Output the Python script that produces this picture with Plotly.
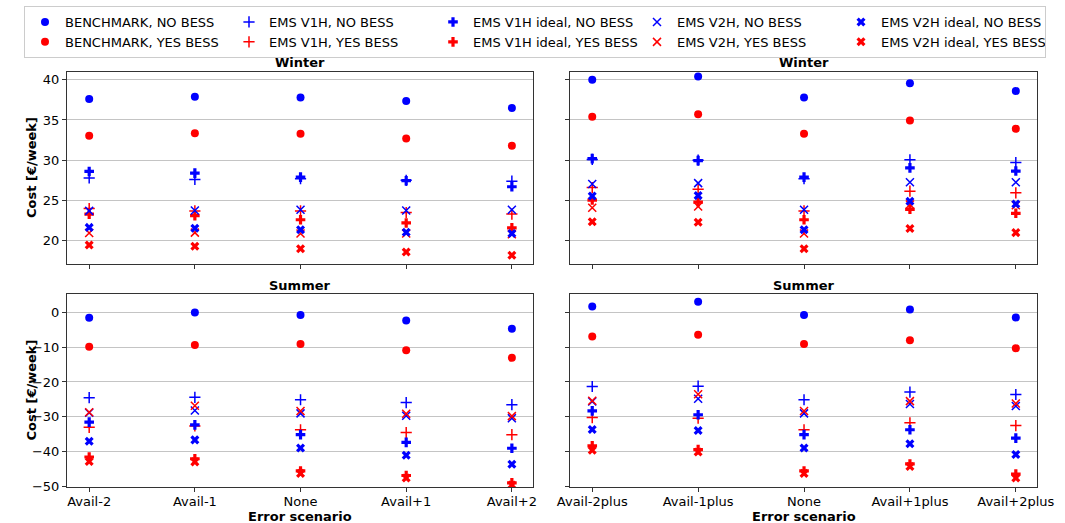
import plotly.graph_objects as go

# ---------------- data ----------------
CATS_LEFT = ["Avail-2", "Avail-1", "None", "Avail+1", "Avail+2"]
CATS_RIGHT = ["Avail-2plus", "Avail-1plus", "None", "Avail+1plus", "Avail+2plus"]

SERIES = [
    "BENCHMARK, NO BESS", "BENCHMARK, YES BESS",
    "EMS V1H, NO BESS", "EMS V1H, YES BESS",
    "EMS V1H ideal, NO BESS", "EMS V1H ideal, YES BESS",
    "EMS V2H, NO BESS", "EMS V2H, YES BESS",
    "EMS V2H ideal, NO BESS", "EMS V2H ideal, YES BESS",
]

# Winter, left panel (Avail-2 ... Avail+2)
W_L_BENCH_NO = [37.6, 37.9, 37.8, 37.35, 36.5]
W_L_BENCH_YES = [33.05, 33.35, 33.3, 32.7, 31.8]
W_L_V1H_NO = [27.8, 27.6, 27.7, 27.5, 27.4]
W_L_V1H_YES = [24.0, 23.7, 23.7, 23.5, 23.3]
W_L_V1HI_NO = [28.6, 28.4, 27.9, 27.45, 26.7]
W_L_V1HI_YES = [23.3, 23.1, 22.6, 22.2, 21.6]
W_L_V2H_NO = [23.7, 23.75, 23.85, 23.75, 23.85]
W_L_V2H_YES = [20.95, 21.0, 20.9, 20.9, 20.8]
W_L_V2HI_NO = [21.65, 21.55, 21.35, 21.05, 20.9]
W_L_V2HI_YES = [19.45, 19.3, 19.0, 18.6, 18.2]

# Winter, right panel (Avail-2plus ... Avail+2plus)
W_R_BENCH_NO = [40.0, 40.4, 37.8, 39.55, 38.6]
W_R_BENCH_YES = [35.4, 35.7, 33.3, 34.95, 33.9]
W_R_V1H_NO = [30.1, 30.0, 27.7, 30.05, 29.7]
W_R_V1H_YES = [26.6, 26.4, 23.7, 26.15, 25.95]
W_R_V1HI_NO = [30.2, 29.95, 27.9, 29.05, 28.65]
W_R_V1HI_YES = [25.05, 24.8, 22.6, 23.9, 23.4]
W_R_V2H_NO = [27.05, 27.15, 23.85, 27.25, 27.25]
W_R_V2H_YES = [24.1, 24.25, 20.9, 24.5, 24.4]
W_R_V2HI_NO = [25.55, 25.6, 21.35, 24.9, 24.55]
W_R_V2HI_YES = [22.35, 22.3, 19.0, 21.5, 21.0]

# Summer, left panel
S_L_BENCH_NO = [-1.6, -0.1, -0.85, -2.4, -4.75]
S_L_BENCH_YES = [-9.9, -9.4, -9.1, -10.95, -13.1]
S_L_V1H_NO = [-24.5, -24.4, -25.1, -25.9, -26.5]
S_L_V1H_YES = [-33.0, -32.6, -33.7, -34.5, -35.1]
S_L_V1HI_NO = [-31.5, -32.3, -35.1, -37.3, -39.0]
S_L_V1HI_YES = [-41.5, -42.0, -45.5, -46.8, -48.9]
S_L_V2H_NO = [-28.8, -28.2, -29.0, -29.7, -30.4]
S_L_V2H_YES = [-28.7, -26.8, -28.3, -29.1, -29.8]
S_L_V2HI_NO = [-37.0, -36.6, -38.9, -41.0, -43.6]
S_L_V2HI_YES = [-42.8, -42.9, -46.2, -47.5, -49.5]

# Summer, right panel
S_R_BENCH_NO = [1.6, 3.0, -0.85, 0.75, -1.5]
S_R_BENCH_YES = [-7.0, -6.5, -9.1, -8.05, -10.35]
S_R_V1H_NO = [-21.3, -21.2, -25.1, -22.9, -23.6]
S_R_V1H_YES = [-30.2, -30.4, -33.7, -31.7, -32.5]
S_R_V1HI_NO = [-28.3, -29.4, -35.1, -33.7, -36.1]
S_R_V1HI_YES = [-38.3, -39.4, -45.5, -43.5, -46.4]
S_R_V2H_NO = [-25.6, -24.8, -29.0, -26.3, -26.9]
S_R_V2H_YES = [-25.4, -23.5, -28.3, -25.5, -26.2]
S_R_V2HI_NO = [-33.6, -33.9, -38.9, -37.7, -40.8]
S_R_V2HI_YES = [-39.6, -40.1, -46.2, -44.2, -47.5]

W_TICKS = [20, 25, 30, 35, 40]
S_TICKS = [-50, -40, -30, -20, -10, 0]

# ---------------- styling ----------------
STYLE = {
    "BENCHMARK, NO BESS": dict(symbol="circle", color="blue", thin=False, rank=1),
    "BENCHMARK, YES BESS": dict(symbol="circle", color="red", thin=False, rank=6),
    "EMS V1H, NO BESS": dict(symbol="cross-thin", color="blue", thin=True, rank=2),
    "EMS V1H, YES BESS": dict(symbol="cross-thin", color="red", thin=True, rank=7),
    "EMS V1H ideal, NO BESS": dict(symbol="cross", color="blue", thin=False, rank=3),
    "EMS V1H ideal, YES BESS": dict(symbol="cross", color="red", thin=False, rank=8),
    "EMS V2H, NO BESS": dict(symbol="x-thin", color="blue", thin=True, rank=4),
    "EMS V2H, YES BESS": dict(symbol="x-thin", color="red", thin=True, rank=9),
    "EMS V2H ideal, NO BESS": dict(symbol="x", color="blue", thin=False, rank=5),
    "EMS V2H ideal, YES BESS": dict(symbol="x", color="red", thin=False, rank=10),
}

PANELS = [
    ("x", "y", CATS_LEFT, [W_L_BENCH_NO, W_L_BENCH_YES, W_L_V1H_NO, W_L_V1H_YES, W_L_V1HI_NO,
                           W_L_V1HI_YES, W_L_V2H_NO, W_L_V2H_YES, W_L_V2HI_NO, W_L_V2HI_YES]),
    ("x2", "y2", CATS_RIGHT, [W_R_BENCH_NO, W_R_BENCH_YES, W_R_V1H_NO, W_R_V1H_YES, W_R_V1HI_NO,
                              W_R_V1HI_YES, W_R_V2H_NO, W_R_V2H_YES, W_R_V2HI_NO, W_R_V2HI_YES]),
    ("x3", "y3", CATS_LEFT, [S_L_BENCH_NO, S_L_BENCH_YES, S_L_V1H_NO, S_L_V1H_YES, S_L_V1HI_NO,
                             S_L_V1HI_YES, S_L_V2H_NO, S_L_V2H_YES, S_L_V2HI_NO, S_L_V2HI_YES]),
    ("x4", "y4", CATS_RIGHT, [S_R_BENCH_NO, S_R_BENCH_YES, S_R_V1H_NO, S_R_V1H_YES, S_R_V1HI_NO,
                              S_R_V1HI_YES, S_R_V2H_NO, S_R_V2H_YES, S_R_V2HI_NO, S_R_V2HI_YES]),
]

fig = go.Figure()
for pi, (xa, ya, cats, values) in enumerate(PANELS):
    for name, vals in zip(SERIES, values):
        st = STYLE[name]
        if st["thin"]:
            marker = dict(symbol=st["symbol"], size=8, color=st["color"],
                          line=dict(width=1.5, color=st["color"]))
        else:
            marker = dict(symbol=st["symbol"], size=8, color=st["color"], line=dict(width=0))
        fig.add_trace(go.Scatter(
            x=cats, y=vals, mode="markers", name=name, marker=marker,
            xaxis=xa, yaxis=ya, showlegend=(pi == 0), legendrank=st["rank"],
        ))

W, H = 1065, 523
FONT = "DejaVu Sans"
dom_xl = [67 / W, 533 / W]
dom_xr = [570 / W, 1037 / W]
dom_yt = [1 - 264 / H, 1 - 71.7 / H]
dom_yb = [1 - 487 / H, 1 - 294 / H]

axis_common = dict(showline=True, linecolor="#333", linewidth=1.1, mirror=True,
                   ticks="outside", ticklen=4, tickcolor="#333", tickwidth=1,
                   zeroline=False, automargin=False,
                   tickfont=dict(family=FONT, size=13, color="black"))

def xaxis(domain, anchor, labels):
    return dict(domain=domain, anchor=anchor, type="category", range=[-0.21, 4.2],
                showgrid=False, showticklabels=labels, ticklabelstandoff=-2, **axis_common)

def fmt(v):
    return str(v).replace("-", "\u2212")

def yaxis(domain, anchor, rng, ticks, labels):
    return dict(domain=domain, anchor=anchor, range=rng, tickvals=ticks,
                ticktext=[fmt(t) for t in ticks],
                showgrid=True, gridcolor="#c4c4c4", gridwidth=1.2,
                showticklabels=labels, **axis_common)

W_RANGE = [17.1, 41.0]
S_RANGE = [-50.1, 5.2]

fig.update_layout(
    width=W, height=H,
    margin=dict(l=0, r=0, t=0, b=0, autoexpand=False),
    plot_bgcolor="white", paper_bgcolor="white",
    font=dict(family=FONT, size=13, color="black"),
    xaxis=xaxis(dom_xl, "y", False),
    xaxis2=xaxis(dom_xr, "y2", False),
    xaxis3=xaxis(dom_xl, "y3", True),
    xaxis4=xaxis(dom_xr, "y4", True),
    yaxis=yaxis(dom_yt, "x", W_RANGE, W_TICKS, True),
    yaxis2=yaxis(dom_yt, "x2", W_RANGE, W_TICKS, False),
    yaxis3=yaxis(dom_yb, "x3", S_RANGE, S_TICKS, True),
    yaxis4=yaxis(dom_yb, "x4", S_RANGE, S_TICKS, False),
    legend=dict(orientation="h", x=24 / W, xanchor="left", y=1 - 6 / H, yanchor="top",
                bordercolor="#cccccc", borderwidth=1, bgcolor="white",
                font=dict(family=FONT, size=13), entrywidth=159, entrywidthmode="pixels",
                itemclick=False, tracegroupgap=0),
)

ann = []
for xc, yc, txt in [((67 + 533) / 2, 62, "Winter"), ((570 + 1037) / 2, 62, "Winter"),
                    ((67 + 533) / 2, 285, "Summer"), ((570 + 1037) / 2, 285, "Summer")]:
    ann.append(dict(x=xc / W, y=1 - yc / H, xref="paper", yref="paper", text=f"<b>{txt}</b>",
                    showarrow=False, xanchor="center", yanchor="middle",
                    font=dict(family=FONT, size=13)))
for yc in [168, 390.5]:
    ann.append(dict(x=31 / W, y=1 - yc / H, xref="paper", yref="paper", text="<b>Cost [€/week]</b>",
                    textangle=-90, showarrow=False, xanchor="center", yanchor="middle",
                    font=dict(family=FONT, size=13)))
for xc in [(67 + 533) / 2, (570 + 1037) / 2]:
    ann.append(dict(x=xc / W, y=1 - 516.5 / H, xref="paper", yref="paper", text="<b>Error scenario</b>",
                    showarrow=False, xanchor="center", yanchor="middle",
                    font=dict(family=FONT, size=13)))
fig.update_layout(annotations=ann)

fig.write_html("out.html")
